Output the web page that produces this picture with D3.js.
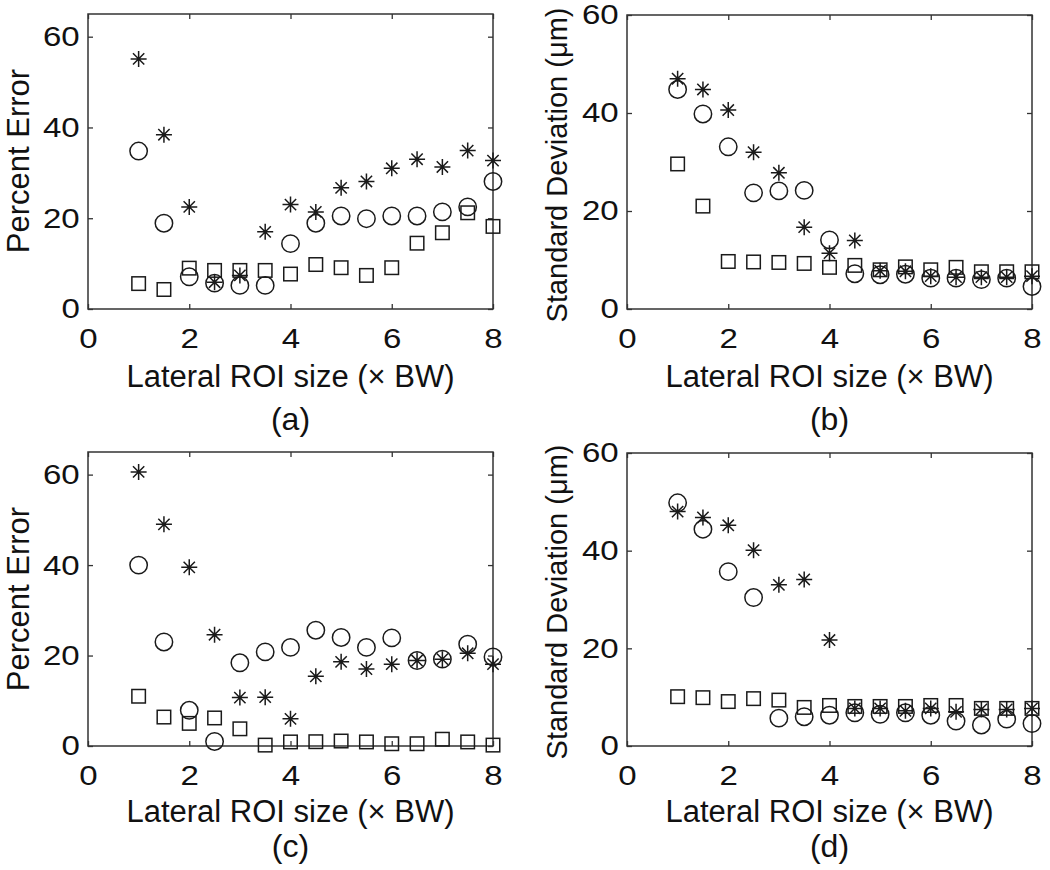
<!DOCTYPE html>
<html>
<head>
<meta charset="utf-8">
<script src="https://cdnjs.cloudflare.com/ajax/libs/d3/7.8.5/d3.min.js"></script>
<style>
  html, body { margin: 0; padding: 0; background: #fff; }
  svg { display: block; }
  text { font-family: "Liberation Sans", Arial, Helvetica, sans-serif; fill: #111; }
</style>
</head>
<body>
<svg id="chart" width="1050" height="870"></svg>
<script>
// ---- Data ----
const xValues = [1, 1.5, 2, 2.5, 3, 3.5, 4, 4.5, 5, 5.5, 6, 6.5, 7, 7.5, 8];
const xTicks = [0, 2, 4, 6, 8];
const yTicks = [0, 20, 40, 60];
const xLabel = "Lateral ROI size (\u00d7 BW)";
const panelTitles = ["(a)", "(b)", "(c)", "(d)"];
const yLabels = ["Percent Error", "Standard Deviation (\u03bcm)", "Percent Error", "Standard Deviation (\u03bcm)"];
const yMax = [65, 60, 65, 60];

// Panel (a) - percent error
const aStar   = [55.1, 38.4, 22.5, 5.9, 7.4, 17.0, 23.0, 21.4, 26.7, 28.1, 31.0, 33.0, 31.3, 34.9, 32.7];
const aCircle = [34.8, 18.9, 7.1, 5.7, 5.2, 5.2, 14.4, 18.9, 20.5, 19.9, 20.5, 20.5, 21.4, 22.5, 28.1];
const aSquare = [5.6, 4.3, 9.0, 8.5, 8.5, 8.5, 7.7, 9.8, 9.1, 7.4, 9.1, 14.5, 16.8, 21.2, 18.2];
// Panel (b) - standard deviation
const bStar   = [47.0, 44.8, 40.6, 32.0, 27.8, 16.7, 11.4, 14.0, 7.8, 7.7, 6.7, 6.5, 6.5, 6.5, 6.7];
const bCircle = [44.8, 39.8, 33.1, 23.7, 24.1, 24.2, 14.1, 7.2, 7.0, 7.1, 6.3, 6.3, 6.0, 6.3, 4.6];
const bSquare = [29.6, 21.0, 9.7, 9.6, 9.5, 9.3, 8.5, 8.9, 8.0, 8.6, 8.0, 8.5, 7.6, 7.6, 7.6];
// Panel (c) - percent error
const cStar   = [60.6, 49.0, 39.5, 24.6, 10.7, 10.8, 6.0, 15.4, 18.6, 17.0, 18.1, 18.9, 19.2, 20.5, 18.1];
const cCircle = [40.0, 23.0, 7.9, 1.0, 18.4, 20.8, 21.8, 25.6, 24.0, 21.8, 23.9, 18.9, 19.2, 22.5, 19.7];
const cSquare = [11.0, 6.4, 5.0, 6.2, 3.8, 0.2, 0.9, 0.95, 1.1, 0.9, 0.5, 0.5, 1.5, 0.9, 0.2];
// Panel (d) - standard deviation
const dStar   = [48.0, 46.8, 45.2, 40.1, 33.0, 34.1, 21.7, 7.7, 7.7, 7.2, 7.7, 7.0, 7.5, 7.5, 7.7];
const dCircle = [49.8, 44.4, 35.7, 30.4, 5.7, 6.0, 6.3, 6.8, 6.5, 6.8, 6.3, 5.1, 4.3, 5.5, 4.6];
const dSquare = [10.1, 9.9, 9.1, 9.7, 9.4, 7.9, 8.3, 8.1, 8.1, 8.1, 8.3, 8.3, 7.7, 7.7, 7.7];

const panelSeries = [
  { star: aStar, circle: aCircle, square: aSquare },
  { star: bStar, circle: bCircle, square: bSquare },
  { star: cStar, circle: cCircle, square: cSquare },
  { star: dStar, circle: dCircle, square: dSquare }
];

// ---- Layout ----
const boxes = [
  { left: 88,  right: 493,  top: 14,  bottom: 309, ylabX: 29,  ylabY: 161, xlabDy: 78, titleY: 430 },
  { left: 627, right: 1032, top: 15,  bottom: 309, ylabX: 567, ylabY: 165, xlabDy: 78, titleY: 430 },
  { left: 88,  right: 493,  top: 452, bottom: 746, ylabX: 29,  ylabY: 599, xlabDy: 76, titleY: 857 },
  { left: 627, right: 1032, top: 453, bottom: 746, ylabX: 567, ylabY: 602, xlabDy: 76, titleY: 857 }
];

const svg = d3.select("#chart");
const ink = "#1a1a1a";
const tickFont = 28;
const tickStretch = 1.18;
const labelFont = 31;
const titleFont = 32;
const ylabFonts = [31, 29, 31, 29];

function starPath(r) {
  const d = r * Math.SQRT1_2;
  return `M${-r},0L${r},0M0,${-r}L0,${r}M${-d},${-d}L${d},${d}M${-d},${d}L${d},${-d}`;
}

boxes.forEach((b, i) => {
  const x = d3.scaleLinear().domain([0, 8]).range([b.left, b.right]);
  const y = d3.scaleLinear().domain([0, yMax[i]]).range([b.bottom, b.top]);
  const g = svg.append("g");

  // frame
  g.append("rect")
    .attr("x", b.left).attr("y", b.top)
    .attr("width", b.right - b.left).attr("height", b.bottom - b.top)
    .attr("fill", "none").attr("stroke", "#333").attr("stroke-width", 1.5);

  const tl = 5;
  // x ticks (inside, bottom and top)
  const xAxisB = d3.axisBottom(x).tickValues(xTicks).tickSizeInner(-tl).tickSizeOuter(0).tickPadding(19);
  const gxb = g.append("g").attr("transform", `translate(0,${b.bottom})`).call(xAxisB);
  gxb.select(".domain").remove();
  gxb.selectAll(".tick line").attr("stroke", "#333").attr("stroke-width", 1.3);
  gxb.selectAll(".tick text").attr("font-size", tickFont).attr("fill", "#111")
    .attr("font-family", "Liberation Sans, Arial, sans-serif")
    .attr("transform", `scale(${tickStretch},1)`);

  const xAxisT = d3.axisTop(x).tickValues(xTicks).tickSizeInner(-tl).tickSizeOuter(0).tickFormat("");
  const gxt = g.append("g").attr("transform", `translate(0,${b.top})`).call(xAxisT);
  gxt.select(".domain").remove();
  gxt.selectAll(".tick line").attr("stroke", "#333").attr("stroke-width", 1.3);

  // y ticks (inside, left and right)
  const yAxisL = d3.axisLeft(y).tickValues(yTicks).tickSizeInner(-tl).tickSizeOuter(0).tickPadding(7);
  const gyl = g.append("g").attr("transform", `translate(${b.left},0)`).call(yAxisL);
  gyl.select(".domain").remove();
  gyl.selectAll(".tick line").attr("stroke", "#333").attr("stroke-width", 1.3);
  gyl.selectAll(".tick text").attr("font-size", tickFont).attr("fill", "#111")
    .attr("font-family", "Liberation Sans, Arial, sans-serif")
    .attr("transform", `scale(${tickStretch},1)`);

  const yAxisR = d3.axisRight(y).tickValues(yTicks).tickSizeInner(-tl).tickSizeOuter(0).tickFormat("");
  const gyr = g.append("g").attr("transform", `translate(${b.right},0)`).call(yAxisR);
  gyr.select(".domain").remove();
  gyr.selectAll(".tick line").attr("stroke", "#333").attr("stroke-width", 1.3);

  // labels
  const cx = (b.left + b.right) / 2;
  g.append("text").attr("x", cx).attr("y", b.bottom + b.xlabDy)
    .attr("text-anchor", "middle").attr("font-size", labelFont).text(xLabel);
  g.append("text").attr("x", cx).attr("y", b.titleY)
    .attr("text-anchor", "middle").attr("font-size", titleFont).text(panelTitles[i]);
  g.append("text")
    .attr("transform", `translate(${b.ylabX},${b.ylabY}) rotate(-90)`)
    .attr("text-anchor", "middle").attr("font-size", ylabFonts[i]).text(yLabels[i]);

  // markers
  const s = panelSeries[i];
  const sq = 13.5;
  g.selectAll("rect.sq").data(xValues.map((v, k) => [v, s.square[k]])).enter()
    .append("rect").attr("class", "sq")
    .attr("x", d => x(d[0]) - sq / 2).attr("y", d => y(d[1]) - sq / 2)
    .attr("width", sq).attr("height", sq)
    .attr("fill", "none").attr("stroke", ink).attr("stroke-width", 1.5);

  g.selectAll("circle.ci").data(xValues.map((v, k) => [v, s.circle[k]])).enter()
    .append("circle").attr("class", "ci")
    .attr("cx", d => x(d[0])).attr("cy", d => y(d[1])).attr("r", 8.7)
    .attr("fill", "none").attr("stroke", ink).attr("stroke-width", 1.5);

  g.selectAll("path.st").data(xValues.map((v, k) => [v, s.star[k]])).enter()
    .append("path").attr("class", "st")
    .attr("transform", d => `translate(${x(d[0])},${y(d[1])})`)
    .attr("d", starPath(8))
    .attr("fill", "none").attr("stroke", ink).attr("stroke-width", 1.5);
});
</script>
</body>
</html>
